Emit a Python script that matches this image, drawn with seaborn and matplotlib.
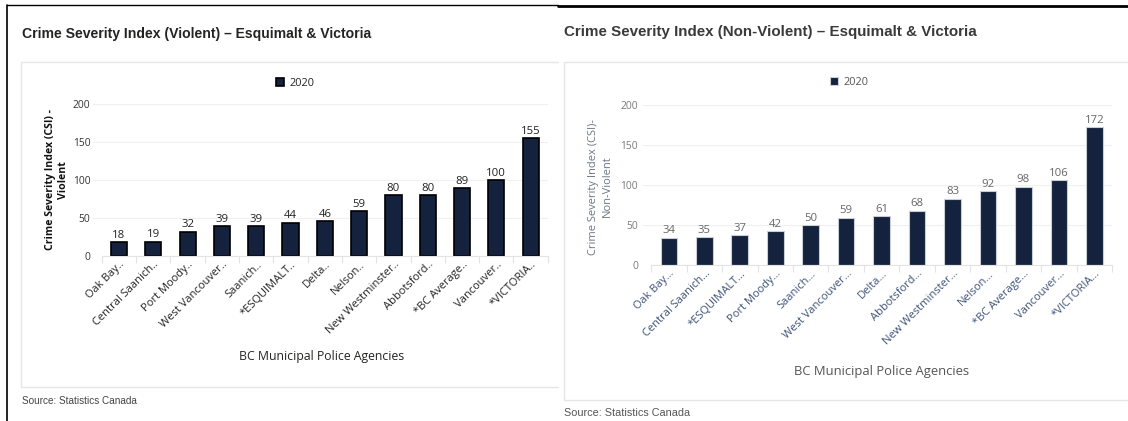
import matplotlib
matplotlib.use("Agg")
import matplotlib.pyplot as plt
from matplotlib.lines import Line2D
from matplotlib.transforms import ScaledTranslation
import pandas as pd
import seaborn as sns

# Crime Severity Index 2020, BC municipal police agencies
violent_agencies = ["Oak Bay..", "Central Saanich..", "Port Moody..", "West Vancouver..",
                    "Saanich..", "*ESQUIMALT..", "Delta..", "Nelson..", "New Westminster..",
                    "Abbotsford..", "*BC Average..", "Vancouver..", "*VICTORIA.."]
violent_csi = [18, 19, 32, 39, 39, 44, 46, 59, 80, 80, 89, 100, 155]

nonviolent_agencies = ["Oak Bay…", "Central Saanich…", "*ESQUIMALT…", "Port Moody…",
                       "Saanich…", "West Vancouver…", "Delta…", "Abbotsford…",
                       "New Westminster…", "Nelson…", "*BC Average…", "Vancouver…",
                       "*VICTORIA…"]
nonviolent_csi = [34, 35, 37, 42, 50, 59, 61, 68, 83, 92, 98, 106, 172]

year = "2020"
y_ticks = [0, 50, 100, 150, 200]

sns.set_theme(style="white")
plt.rcParams["font.family"] = ["Open Sans", "DejaVu Sans"]

W, H = 1128, 421
fig = plt.figure(figsize=(W / 100, H / 100), dpi=100)
fig.patch.set_facecolor("white")


def px_rect(x0, y0, x1, y1):
    return [x0 / W, (H - y1) / H, (x1 - x0) / W, (y1 - y0) / H]


def hline(x0, x1, y, color, lw):
    fig.add_artist(Line2D([x0 / W, x1 / W], [(H - y) / H] * 2, color=color, lw=lw,
                          transform=fig.transFigure))


def vline(x, y0, y1, color, lw):
    fig.add_artist(Line2D([x / W] * 2, [(H - y0) / H, (H - y1) / H], color=color, lw=lw,
                          transform=fig.transFigure))


# page frame
vline(7, 5, 421, "black", 1.2)
hline(7, 558, 5, "black", 1.0)
hline(558, 1128, 5.5, "black", 2.0)

# cards
card = "#e6e6e6"
hline(21, 558, 62, card, 1.0)
hline(21, 558, 387, card, 1.0)
vline(21, 62, 387, card, 1.0)
hline(564, 1128, 62, card, 1.0)
hline(564, 1128, 400, card, 1.0)
vline(564, 62, 400, card, 1.0)

bar_color = "#14223d"


def draw_panel(rect, names, values, edge, edge_lw, tick_color, value_color,
               xtick_color, ylab, ylab_color, ylab_weight, ylab_xy, xlab_color, xlab_xy,
               legend_color, legend_xy, ytick_pad, xlim_left, ylab_size, xlab_size):
    ax = fig.add_axes(rect)
    df = pd.DataFrame({"agency": names, "csi": values, "year": year})
    sns.barplot(data=df, x="agency", y="csi", hue="year", palette={year: bar_color},
                width=0.47, edgecolor=edge, linewidth=edge_lw, ax=ax, legend=True,
                saturation=1)
    n = len(names)
    ax.set_xlim(xlim_left, n - 0.5)
    ax.set_ylim(0, 200)
    ax.set_yticks(y_ticks)
    ax.grid(axis="y", color="#f0f0f0", lw=0.8)
    ax.set_axisbelow(True)
    for s in ["top", "right", "left"]:
        ax.spines[s].set_visible(False)
    ax.spines["bottom"].set_color("#e3e3e3")
    ax.spines["bottom"].set_linewidth(0.8)
    ax.spines["bottom"].set_bounds(-0.5, n - 0.5)
    ax.set_xticks([i - 0.5 for i in range(n + 1)], minor=True)
    ax.tick_params(axis="x", which="minor", length=5, width=0.8, color="#e3e3e3",
                   direction="out", bottom=True)
    ax.tick_params(axis="x", which="major", length=0, pad=5)
    ax.tick_params(axis="y", length=0, pad=ytick_pad, labelsize=7.4,
                   labelcolor=tick_color)
    ax.set_xticks(range(n))
    ax.set_xticklabels(names, rotation=45, ha="right", va="center",
                       rotation_mode="anchor", fontsize=8.0, color=xtick_color)
    shift = ScaledTranslation(4 / 100, 0, fig.dpi_scale_trans)
    for lab in ax.get_xticklabels():
        lab.set_transform(lab.get_transform() + shift)
    for c in ax.containers:
        ax.bar_label(c, fmt="%d", padding=1, fontsize=8.2, color=value_color)
    ax.set_ylabel(ylab, fontsize=ylab_size, color=ylab_color, fontweight=ylab_weight,
                  linespacing=1.3)
    ax.yaxis.set_label_coords(*ylab_xy)
    ax.yaxis.label.set_va("center")
    ax.set_xlabel("BC Municipal Police Agencies", fontsize=xlab_size, color=xlab_color)
    ax.xaxis.set_label_coords(*xlab_xy)
    ax.xaxis.label.set_va("center")
    sns.move_legend(ax, "center", bbox_to_anchor=legend_xy, frameon=False, title=None,
                    fontsize=7.9, handlelength=0.75, handleheight=0.75,
                    handletextpad=0.5, labelcolor=legend_color)
    return ax


ax1 = draw_panel(px_rect(93.3, 104, 547.8, 256), violent_agencies, violent_csi,
                 edge="black", edge_lw=1.2, tick_color="#333333", value_color="#222222",
                 xtick_color="#252423", ylab="Crime Severity Index (CSI) -\nViolent",
                 ylab_color="#111111", ylab_weight="bold", ylab_xy=(-0.08, 0.5),
                 xlab_color="#252423", xlab_xy=(0.503, -0.664),
                 legend_color="#252423", legend_xy=(0.445, 1.135), ytick_pad=2,
                 xlim_left=-0.75, ylab_size=7.6, xlab_size=8.8)

ax2 = draw_panel(px_rect(642.7, 105, 1112, 265), nonviolent_agencies, nonviolent_csi,
                 edge="#c9ced6", edge_lw=0.8, tick_color="#7a7a7a", value_color="#666666",
                 xtick_color="#3f5277", ylab="Crime Severity Index (CSI)-\nNon-Violent",
                 ylab_color="#6b7785", ylab_weight="normal", ylab_xy=(-0.09, 0.49),
                 xlab_color="#555555", xlab_xy=(0.508, -0.6625),
                 legend_color="#555555", legend_xy=(0.44, 1.14), ytick_pad=3.4,
                 xlim_left=-0.74, ylab_size=8.0, xlab_size=9.4)

# titles and sources
fig.text(22 / W, (H - 34) / H, "Crime Severity Index (Violent) – Esquimalt & Victoria",
         family=["Liberation Sans", "DejaVu Sans"], fontweight="bold", fontsize=10.1,
         color="#252423", va="center", ha="left")
fig.text(564 / W, (H - 32) / H, "Crime Severity Index (Non-Violent) – Esquimalt & Victoria",
         family=["Liberation Sans", "DejaVu Sans"], fontweight="bold", fontsize=10.9,
         color="#3a3a3a", va="center", ha="left")
fig.text(22 / W, (H - 401) / H, "Source: Statistics Canada",
         family=["Liberation Sans", "DejaVu Sans"], fontsize=7.2, color="#444444",
         va="center", ha="left")
fig.text(564 / W, (H - 413) / H, "Source: Statistics Canada",
         family=["Liberation Sans", "DejaVu Sans"], fontsize=7.8, color="#555555",
         va="center", ha="left")

fig.savefig("out.png", dpi=100, facecolor="white")
